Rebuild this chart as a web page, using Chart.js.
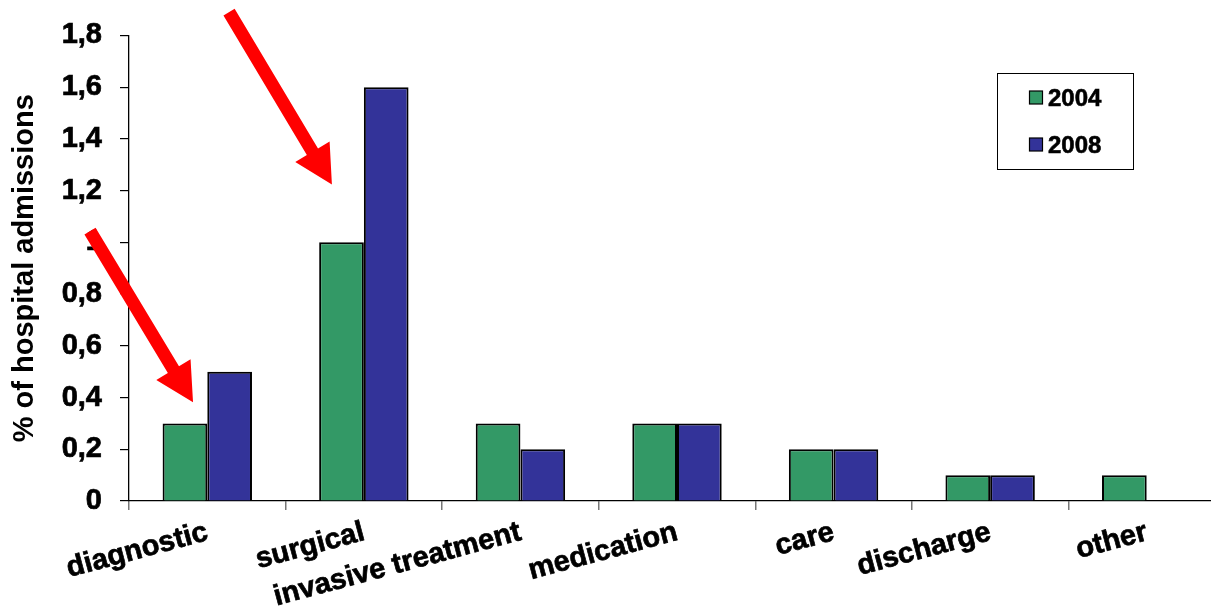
<!DOCTYPE html>
<html>
<head>
<meta charset="utf-8">
<title>Hospital admissions by category</title>
<script src="https://cdn.jsdelivr.net/npm/chart.js@4/dist/chart.umd.min.js"></script>
<style>
  html, body { margin: 0; padding: 0; background: #fff; overflow: hidden; }
  #wrap { position: relative; width: 1225px; height: 613px; }
</style>
</head>
<body>
<div id="wrap"><canvas id="chart"></canvas></div>
<script>
// Categories along the x axis
const categories = ['diagnostic', 'surgical', 'invasive treatment', 'medication', 'care', 'discharge', 'other'];

// Series
const seriesNames = ['2004', '2008'];
const values2004 = [0.3, 1.0, 0.3, 0.3, 0.2, 0.1, 0.1];
const values2008 = [0.5, 1.6, 0.2, 0.3, 0.2, 0.1, null];

// Y tick labels (decimal comma)
const yTickLabels = ['0', '0,2', '0,4', '0,6', '0,8', '1', '1,2', '1,4', '1,6', '1,8'];

// Y axis title
const yTitle = '% of hospital admissions';

// Highlight arrows, given in axis units: x = category index, y = value
const arrowTails = [{ x: 0.139, y: 1.89 }, { x: -0.749, y: 1.043 }];
const arrowTips  = [{ x: 0.796, y: 1.224 }, { x: -0.091, y: 0.382 }];

const FONT = "'Liberation Sans', Arial, Helvetica, sans-serif";
const GREEN = '#339966';
const BLUE = '#333399';

// Red block arrows drawn over the chart
const arrowPlugin = {
  id: 'arrows',
  afterDraw(chart) {
    const { ctx, scales: { x, y } } = chart;
    const shaft = 13, headW = 40, headL = 38;
    ctx.save();
    ctx.fillStyle = '#ff0000';
    for (let i = 0; i < arrowTips.length; i++) {
      const tx = x.getPixelForValue(arrowTails[i].x), ty = y.getPixelForValue(arrowTails[i].y);
      const hx = x.getPixelForValue(arrowTips[i].x), hy = y.getPixelForValue(arrowTips[i].y);
      const len = Math.hypot(hx - tx, hy - ty);
      const ux = (hx - tx) / len, uy = (hy - ty) / len;
      const px = -uy, py = ux;
      const bx = hx - ux * headL, by = hy - uy * headL;
      ctx.beginPath();
      ctx.moveTo(tx + px * shaft / 2, ty + py * shaft / 2);
      ctx.lineTo(bx + px * shaft / 2, by + py * shaft / 2);
      ctx.lineTo(bx + px * headW / 2, by + py * headW / 2);
      ctx.lineTo(hx, hy);
      ctx.lineTo(bx - px * headW / 2, by - py * headW / 2);
      ctx.lineTo(bx - px * shaft / 2, by - py * shaft / 2);
      ctx.lineTo(tx - px * shaft / 2, ty - py * shaft / 2);
      ctx.closePath();
      ctx.fill();
    }
    ctx.restore();
  }
};

// Boxed legend in the upper right of the plot
const boxLegendPlugin = {
  id: 'boxLegend',
  afterDatasetsDraw(chart) {
    const ctx = chart.ctx;
    const left = 997.5, top = 73.5, w = 136, h = 96;
    ctx.save();
    ctx.fillStyle = '#fff';
    ctx.fillRect(left, top, w, h);
    ctx.strokeStyle = '#000';
    ctx.lineWidth = 1;
    ctx.strokeRect(left, top, w, h);
    ctx.font = `bold 24px ${FONT}`;
    ctx.textBaseline = 'middle';
    ctx.textAlign = 'left';
    chart.data.datasets.forEach((ds, i) => {
      const cy = 98 + i * 47;
      ctx.fillStyle = ds.backgroundColor;
      ctx.fillRect(1029.5, cy - 7, 13, 13);
      ctx.lineWidth = 1.2;
      ctx.strokeStyle = '#000';
      ctx.strokeRect(1029.5, cy - 7, 13, 13);
      ctx.fillStyle = '#000';
      ctx.fillText(ds.label, 1048, cy + 1);
      ctx.lineWidth = 0.6;
      ctx.strokeText(ds.label, 1048, cy + 1);
    });
    ctx.restore();
  }
};

new Chart(document.getElementById('chart'), {
  type: 'bar',
  data: {
    labels: categories,
    datasets: [
      { label: seriesNames[0], data: values2004, backgroundColor: GREEN },
      { label: seriesNames[1], data: values2008, backgroundColor: BLUE }
    ]
  },
  options: {
    responsive: true,
    maintainAspectRatio: false,
    animation: false,
    devicePixelRatio: 1,
    layout: { padding: { top: 33, right: 0, bottom: 0, left: 0 } },
    datasets: {
      bar: {
        borderColor: '#000',
        borderWidth: 2,
        categoryPercentage: 0.571,
        barPercentage: 1.0
      }
    },
    plugins: {
      legend: { display: false },
      tooltip: { enabled: false },
      title: { display: false }
    },
    scales: {
      x: {
        offset: true,
        grid: { display: true, offset: true, drawOnChartArea: false, drawTicks: true, tickLength: 9, color: '#777', lineWidth: 1.5 },
        border: { display: true, color: '#000', width: 1.3 },
        ticks: {
          autoSkip: false,
          minRotation: 15,
          maxRotation: 15,
          padding: 5,
          color: '#000',
          textStrokeColor: '#000',
          textStrokeWidth: 0.7,
          font: { family: FONT, size: 29, weight: 'bold' }
        },
        afterFit(scale) { scale.height = 112; }
      },
      y: {
        min: 0,
        max: 1.8,
        ticks: {
          stepSize: 0.2,
          padding: 18,
          color: '#000',
          textStrokeColor: '#000',
          textStrokeWidth: 0.7,
          font: { family: FONT, size: 29, weight: 'bold' },
          callback: (value, index) => yTickLabels[index]
        },
        grid: { display: true, drawOnChartArea: false, drawTicks: true, tickLength: 9, color: '#000', lineWidth: 1.2 },
        border: { display: true, color: '#000', width: 1.3 },
        title: {
          display: true,
          text: yTitle,
          color: '#000',
          font: { family: FONT, size: 29, weight: 'bold' },
          padding: { top: 8, bottom: 0 }
        },
        afterFit(scale) { scale.width = 129; }
      }
    }
  },
  plugins: [boxLegendPlugin, arrowPlugin]
});
</script>
</body>
</html>
